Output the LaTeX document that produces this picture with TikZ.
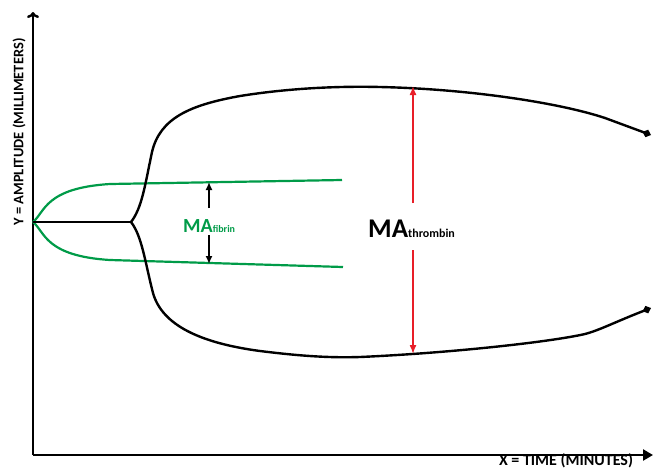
\documentclass[tikz,border=0pt]{standalone}
\usepackage{fontspec}
\setmainfont{Carlito}[UprightFont=*-Regular,BoldFont=*-Bold,Extension=.ttf]
\usetikzlibrary{arrows.meta}
\definecolor{fgreen}{RGB}{0,155,72}
\definecolor{fred}{RGB}{232,30,40}
\begin{document}
\begin{tikzpicture}[x=1pt,y=-1pt,
  curve/.style={line width=2.4pt},
  gcurve/.style={line width=2.2pt,fgreen},
  axis/.style={line width=2.4pt},
  lbl/.style={font=\bfseries\fontsize{14.5}{15}\selectfont, inner sep=0pt},
  dbl/.style={line width=1.5pt,-{Latex[length=8pt,width=7pt]}},
  rdbl/.style={line width=1.5pt,fred,-{Latex[length=9pt,width=7pt]}}]
\useasboundingbox (0,0) rectangle (655,469);
% axes
\coordinate (O) at (33,455);
\coordinate (Ytop) at (33,12);
\coordinate (Xend) at (653,455);
\draw[axis,-{To[length=6pt,width=12pt]}] (O) -- (Ytop);
\draw[axis,-{Triangle[length=10pt,width=11pt]}] (O) -- (Xend);
\node[lbl,rotate=90] (ylab) at (19,132) {Y = AMPLITUDE (MILLIMETERS)};
\node[lbl,font=\bfseries\fontsize{16}{16}\selectfont] (xlab) at (566,461) {X = TIME (MINUTES)};
% fibrin curves
\coordinate (S) at (33,222);
\coordinate (B) at (131,222);
\draw[gcurve] (S) .. controls (45,212) and (45,188) .. (110,184) -- (342,180);
\draw[gcurve] (S) .. controls (45,232) and (45,256) .. (110,260) -- (343,267);
\draw[curve] (S) -- (B);
% thrombin curves
\draw[curve,-{Diamond[length=9pt,width=8pt]}] (B) .. controls (142,208) and (145,185) .. (152,152)
  .. controls (160,118) and (190,105) .. (240,96)
  .. controls (290,88) and (340,86) .. (380,87)
  .. controls (470,89) and (560,103) .. (605,118)
  -- (651,135);
\draw[curve,-{Diamond[length=9pt,width=8pt]}] (B) .. controls (142,236) and (145,262) .. (153,293)
  .. controls (162,325) and (200,343) .. (260,351)
  .. controls (300,356) and (330,358) .. (360,357)
  .. controls (450,353) and (550,342) .. (585,334)
  .. controls (600,330) and (615,322) .. (651,308);
% MA fibrin
\node[inner sep=0pt, text=fgreen, font=\bfseries, anchor=base west] (mafib) at (183,232) {{\fontsize{20}{20}\selectfont MA}{\fontsize{10}{10}\selectfont fibrin}};
\coordinate (f1) at (209,208);
\coordinate (f1t) at (209,182);
\coordinate (f2) at (209,235);
\coordinate (f2t) at (209,264);
\draw[dbl] (f1) -- (f1t);
\draw[dbl] (f2) -- (f2t);
% MA thrombin
\node[inner sep=0pt, font=\bfseries, anchor=base west] (mathr) at (368,237) {{\fontsize{27}{27}\selectfont MA}{\fontsize{12}{12}\selectfont thrombin}};
\coordinate (r1) at (413,203);
\coordinate (r1t) at (413,86);
\coordinate (r2) at (413,250);
\coordinate (r2t) at (413,354);
\draw[rdbl] (r1) -- (r1t);
\draw[rdbl] (r2) -- (r2t);
\end{tikzpicture}
\end{document}
